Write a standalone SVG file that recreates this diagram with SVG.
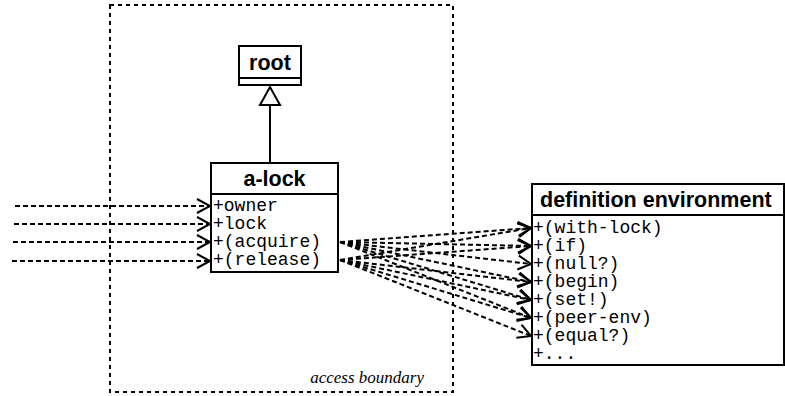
<svg xmlns="http://www.w3.org/2000/svg" width="785" height="396" viewBox="0 0 785 396">
  <style>
    .box { fill: #fff; stroke: #000; stroke-width: 2; }
    .div { stroke: #000; stroke-width: 2; }
    .title { font-family: "Liberation Sans", Arial, sans-serif; font-weight: bold; font-size: 21.5px; fill: #000; }
    .item { font-family: "Liberation Mono", "Courier New", monospace; font-size: 18px; fill: #000; }
    .dash { fill: none; stroke: #000; stroke-width: 2; stroke-dasharray: 5 3; marker-end: url(#open); }
    .bound { fill: none; stroke: #000; stroke-width: 2; stroke-dasharray: 4 4; }
    .note { font-family: "Liberation Serif", "Times New Roman", serif; font-style: italic; font-size: 17px; fill: #000; }
  </style>
  <defs>
    <marker id="open" markerUnits="userSpaceOnUse" markerWidth="18" markerHeight="18" refX="14" refY="8" orient="auto">
      <path d="M1,1 L14,8 L1,15" fill="none" stroke="#000" stroke-width="2"/>
    </marker>
  </defs>

  <!-- access boundary -->
  <g id="boundary">
    <rect class="bound" x="110" y="5" width="343" height="387"/>
    <text class="note" x="424" y="383" text-anchor="end">access boundary</text>
  </g>

  <!-- connectors -->
  <g id="connectors">
    <!-- inheritance -->
    <line x1="270" y1="105" x2="270" y2="162" stroke="#000" stroke-width="2"/>
    <polygon points="270,87 260,105 280,105" fill="#fff" stroke="#000" stroke-width="2"/>
    <!-- incoming accesses -->
    <line class="dash" x1="15" y1="206" x2="210" y2="206"/>
    <line class="dash" x1="14" y1="224" x2="210" y2="224"/>
    <line class="dash" x1="13" y1="242" x2="210" y2="242"/>
    <line class="dash" x1="12" y1="261" x2="210" y2="261"/>
    <!-- (acquire) dependencies -->
    <line class="dash" x1="340" y1="242" x2="531" y2="228"/>
    <line class="dash" x1="340" y1="242" x2="531" y2="246"/>
    <line class="dash" x1="340" y1="242" x2="531" y2="264"/>
    <line class="dash" x1="340" y1="242" x2="531" y2="282"/>
    <line class="dash" x1="340" y1="242" x2="531" y2="300"/>
    <line class="dash" x1="340" y1="242" x2="531" y2="318"/>
    <!-- (release) dependencies -->
    <line class="dash" x1="340" y1="260" x2="531" y2="228"/>
    <line class="dash" x1="340" y1="260" x2="531" y2="246"/>
    <line class="dash" x1="340" y1="260" x2="531" y2="282"/>
    <line class="dash" x1="340" y1="260" x2="531" y2="300"/>
    <line class="dash" x1="340" y1="260" x2="531" y2="318"/>
    <line class="dash" x1="340" y1="260" x2="531" y2="336"/>
  </g>

  <g id="root">
    <rect class="box" x="239" y="46" width="62" height="39"/>
    <line class="div" x1="239" y1="78" x2="301" y2="78"/>
    <text class="title" x="270" y="70" text-anchor="middle">root</text>
  </g>

  <g id="a-lock">
    <rect class="box" x="211" y="163" width="127" height="109"/>
    <line class="div" x1="211" y1="194" x2="338" y2="194"/>
    <text class="title" x="274.5" y="186" text-anchor="middle">a-lock</text>
    <text class="item" x="213" y="211">+owner</text>
    <text class="item" x="213" y="229">+lock</text>
    <text class="item" x="213" y="247">+(acquire)</text>
    <text class="item" x="213" y="265">+(release)</text>
  </g>

  <g id="definition-environment">
    <rect class="box" x="532" y="184" width="252" height="181"/>
    <line class="div" x1="532" y1="215" x2="784" y2="215"/>
    <text class="title" x="540" y="207">definition environment</text>
    <text class="item" x="533" y="233">+(with-lock)</text>
    <text class="item" x="533" y="251">+(if)</text>
    <text class="item" x="533" y="269">+(null?)</text>
    <text class="item" x="533" y="287">+(begin)</text>
    <text class="item" x="533" y="305">+(set!)</text>
    <text class="item" x="533" y="323">+(peer-env)</text>
    <text class="item" x="533" y="341">+(equal?)</text>
    <text class="item" x="533" y="359">+...</text>
  </g>
</svg>
